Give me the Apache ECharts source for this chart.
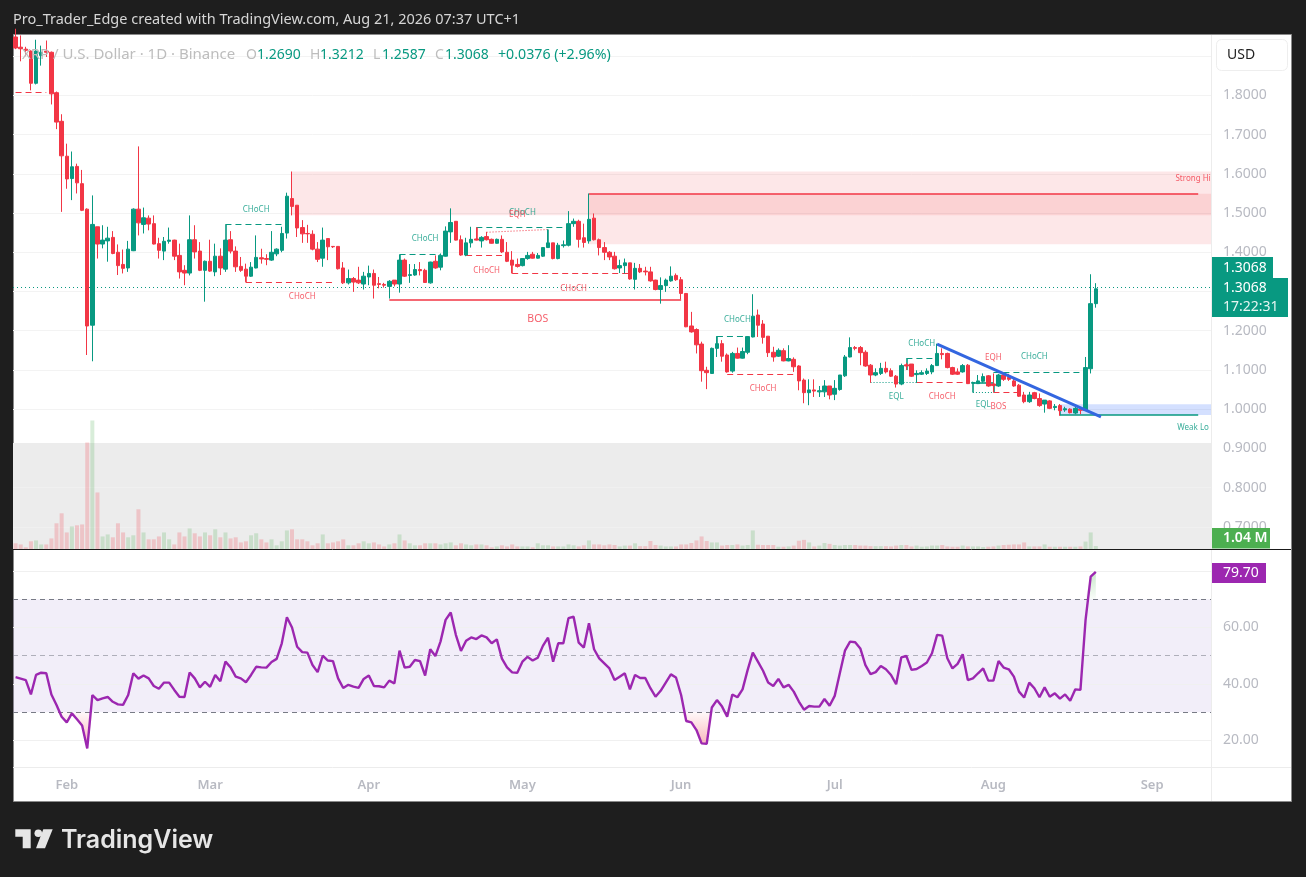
<!DOCTYPE html>
<html><head><meta charset="utf-8">
<style>html,body{margin:0;padding:0;background:#1e1e1e}#c{width:1306px;height:877px}</style>
<script src="https://cdn.jsdelivr.net/npm/echarts@6/dist/echarts.min.js"></script>
</head><body><div id="c"></div>
<script>
const opens=[1.949,1.923,1.918,1.913,1.831,1.902,1.913,1.910,1.807,1.734,
1.645,1.588,1.619,1.575,1.510,1.214,1.465,1.421,1.429,1.438,
1.400,1.369,1.360,1.404,1.510,1.471,1.487,1.473,1.422,1.403,
1.428,1.431,1.392,1.354,1.347,1.432,1.403,1.354,1.377,1.350,
1.390,1.357,1.432,1.403,1.364,1.357,1.339,1.360,1.386,1.384,
1.380,1.396,1.405,1.449,1.537,1.520,1.463,1.448,1.446,1.408,
1.385,1.435,1.415,1.415,1.360,1.322,1.333,1.329,1.319,1.337,
1.346,1.320,1.318,1.313,1.329,1.319,1.380,1.341,1.342,1.356,
1.354,1.322,1.377,1.362,1.390,1.452,1.479,1.432,1.393,1.424,
1.434,1.429,1.440,1.433,1.423,1.433,1.400,1.380,1.369,1.366,
1.384,1.395,1.385,1.390,1.412,1.424,1.384,1.417,1.418,1.473,
1.479,1.437,1.429,1.487,1.432,1.412,1.400,1.390,1.360,1.366,
1.373,1.331,1.359,1.352,1.350,1.329,1.305,1.315,1.327,1.341,
1.330,1.295,1.212,1.203,1.166,1.099,1.091,1.155,1.167,1.138,
1.097,1.142,1.130,1.145,1.184,1.240,1.217,1.186,1.145,1.135,
1.149,1.123,1.127,1.110,1.074,1.042,1.049,1.044,1.044,1.059,
1.038,1.050,1.085,1.133,1.157,1.157,1.145,1.112,1.087,1.091,
1.104,1.098,1.084,1.064,1.113,1.115,1.088,1.089,1.091,1.095,
1.111,1.142,1.142,1.106,1.095,1.095,1.112,1.066,1.065,1.071,
1.085,1.064,1.059,1.087,1.081,1.072,1.061,1.036,1.019,1.042,
1.027,1.013,1.021,1.004,1.009,0.998,1.000,0.990,1.000,0.997,
1.103,1.2690];
const closes=[1.921,1.919,1.915,1.831,1.913,1.910,1.910,1.804,1.732,1.646,
1.587,1.618,1.577,1.507,1.212,1.471,1.421,1.431,1.436,1.397,
1.366,1.359,1.408,1.510,1.475,1.488,1.472,1.421,1.405,1.428,
1.431,1.390,1.350,1.347,1.432,1.401,1.354,1.377,1.352,1.390,
1.360,1.431,1.403,1.363,1.354,1.339,1.362,1.387,1.383,1.382,
1.400,1.408,1.448,1.543,1.517,1.462,1.447,1.447,1.408,1.382,
1.431,1.414,1.414,1.358,1.322,1.333,1.324,1.322,1.339,1.346,
1.316,1.318,1.316,1.326,1.319,1.380,1.339,1.343,1.356,1.353,
1.323,1.375,1.360,1.392,1.454,1.476,1.431,1.393,1.424,1.433,
1.431,1.438,1.432,1.423,1.433,1.401,1.377,1.367,1.364,1.384,
1.392,1.385,1.392,1.412,1.424,1.384,1.418,1.419,1.473,1.479,
1.433,1.425,1.484,1.432,1.412,1.400,1.388,1.358,1.366,1.373,
1.332,1.359,1.350,1.350,1.327,1.305,1.315,1.329,1.339,1.330,
1.295,1.210,1.197,1.164,1.098,1.093,1.155,1.167,1.135,1.095,
1.142,1.130,1.147,1.185,1.237,1.214,1.183,1.144,1.133,1.150,
1.123,1.129,1.108,1.072,1.042,1.049,1.046,1.047,1.059,1.036,
1.053,1.087,1.133,1.157,1.155,1.144,1.110,1.087,1.093,1.104,
1.095,1.084,1.064,1.111,1.110,1.084,1.091,1.093,1.097,1.111,
1.142,1.139,1.106,1.089,1.089,1.111,1.065,1.068,1.072,1.083,
1.059,1.060,1.087,1.076,1.076,1.059,1.033,1.019,1.036,1.027,
1.009,1.023,1.002,1.007,0.996,1.001,0.991,1.002,0.997,1.106,
1.269,1.3068];
const highs=[1.970,1.953,1.924,1.915,1.942,1.927,1.940,1.912,1.810,1.752,
1.677,1.657,1.626,1.610,1.512,1.545,1.465,1.469,1.465,1.454,
1.420,1.407,1.429,1.512,1.670,1.514,1.494,1.494,1.437,1.439,
1.463,1.432,1.422,1.367,1.494,1.469,1.426,1.379,1.432,1.422,
1.410,1.432,1.454,1.415,1.388,1.371,1.375,1.443,1.409,1.395,
1.454,1.410,1.465,1.552,1.606,1.520,1.482,1.470,1.456,1.426,
1.463,1.435,1.416,1.416,1.375,1.356,1.337,1.363,1.350,1.366,
1.356,1.337,1.322,1.329,1.329,1.394,1.384,1.370,1.370,1.375,
1.358,1.376,1.392,1.397,1.466,1.512,1.479,1.443,1.437,1.465,
1.463,1.441,1.452,1.435,1.435,1.443,1.426,1.403,1.384,1.385,
1.401,1.401,1.398,1.412,1.458,1.424,1.424,1.430,1.505,1.486,
1.483,1.473,1.550,1.499,1.435,1.426,1.403,1.401,1.381,1.384,
1.373,1.373,1.370,1.363,1.363,1.330,1.336,1.333,1.364,1.346,
1.337,1.296,1.248,1.206,1.172,1.108,1.157,1.186,1.176,1.142,
1.146,1.157,1.157,1.186,1.293,1.254,1.227,1.186,1.159,1.155,
1.155,1.163,1.132,1.112,1.078,1.076,1.076,1.059,1.074,1.059,
1.074,1.087,1.138,1.183,1.161,1.161,1.150,1.115,1.104,1.118,
1.121,1.104,1.087,1.116,1.118,1.115,1.099,1.099,1.104,1.115,
1.167,1.155,1.144,1.108,1.104,1.115,1.115,1.070,1.087,1.091,
1.087,1.091,1.090,1.090,1.090,1.078,1.064,1.044,1.044,1.044,
1.040,1.023,1.023,1.013,1.013,1.006,1.002,1.006,1.002,1.133,
1.344,1.3212];
const lows=[1.918,1.887,1.900,1.813,1.828,1.876,1.898,1.777,1.714,1.503,
1.562,1.533,1.550,1.505,1.138,1.122,1.384,1.410,1.376,1.395,
1.342,1.346,1.350,1.403,1.443,1.448,1.456,1.420,1.384,1.380,
1.422,1.380,1.333,1.316,1.341,1.384,1.352,1.274,1.350,1.339,
1.342,1.350,1.397,1.350,1.350,1.325,1.337,1.359,1.371,1.367,
1.378,1.390,1.400,1.435,1.494,1.439,1.424,1.424,1.405,1.375,
1.363,1.380,1.411,1.356,1.319,1.318,1.299,1.319,1.305,1.316,
1.282,1.308,1.310,1.282,1.313,1.297,1.337,1.322,1.340,1.341,
1.322,1.320,1.358,1.354,1.389,1.424,1.430,1.391,1.390,1.412,
1.430,1.412,1.430,1.422,1.422,1.398,1.375,1.347,1.361,1.364,
1.381,1.384,1.384,1.388,1.411,1.382,1.382,1.412,1.415,1.465,
1.412,1.412,1.422,1.430,1.392,1.380,1.380,1.356,1.347,1.346,
1.330,1.305,1.347,1.341,1.325,1.303,1.269,1.299,1.325,1.327,
1.280,1.209,1.195,1.142,1.070,1.051,1.090,1.133,1.121,1.093,
1.093,1.129,1.129,1.140,1.183,1.184,1.167,1.133,1.121,1.133,
1.122,1.122,1.095,1.048,1.015,1.010,1.031,1.031,1.031,1.025,
1.023,1.047,1.082,1.132,1.150,1.112,1.108,1.067,1.084,1.087,
1.091,1.082,1.055,1.061,1.100,1.082,1.067,1.087,1.087,1.089,
1.110,1.127,1.104,1.087,1.087,1.093,1.064,1.064,1.064,1.067,
1.057,1.044,1.057,1.072,1.072,1.057,1.031,1.015,1.016,1.025,
1.006,0.991,1.000,0.997,0.983,0.993,0.989,0.987,0.987,0.996,
1.091,1.2587];
const volumes=[2,1.6,.6,2.7,3,1.6,1.6,3.7,9,12.5,
5.8,7.9,8.3,8.6,37.3,45,19.8,4.4,5.1,4.1,
9,5.8,4.1,4.8,13.9,5.8,3.4,3.4,4.4,5.8,
3.4,1.6,5.8,4.4,7.2,5.5,4.4,5.8,4.8,6.9,
4.1,5.8,3.7,4.1,2.3,2.7,4.8,5.5,3.4,2.3,
3.4,1.3,2.7,6.5,6.9,3.4,3.4,2.7,1.3,2,
5.1,2,2.3,2.7,3.4,1.3,1.3,2,2.7,2,
2.3,1.6,.9,1.6,2,5.1,3,2,1.3,1.3,
2,2,2,1.6,2,2.3,1.3,2,1.6,1.3,
1.6,1.6,1.3,.6,.9,1.3,.9,1.6,.9,.9,
.9,.6,2,1.3,1.3,.9,.9,.9,1.6,1.3,
.9,1.3,3,1.6,1.6,1.3,1.6,1.4,.9,1.2,
1.2,2,1,1,2.8,1.4,1.2,.9,.9,.9,
1.6,1.6,2.1,3,4.4,2.8,2.3,2.3,1.2,1.4,
1.4,1.6,1.2,1.4,6.5,1.5,1.4,1.4,1.4,.8,
.8,.9,1.2,2.9,3.2,2.3,.9,1.2,2.1,1.8,
1.4,1.2,1.4,1.4,1.4,1.2,1.2,1,1,1,
1,.9,1.2,1.4,1.4,.9,1.2,.8,.9,1.2,
1.2,1.4,.9,.8,.8,1.2,.9,.9,.9,.7,
.8,.9,1.2,1.4,1.5,1.6,1.6,2.3,.9,.9,
.9,1.6,.8,.8,.8,.8,.8,.8,.9,2.6,
5.8,1.04];
const rsi=[42.4,41.9,41.4,36.3,43.2,44,43.8,36.3,32.6,28.4,
26.4,29.6,27.5,25.3,17.2,36.1,34.3,34.9,35.4,33.7,
32.8,32.6,36.1,43.8,41.9,43,42,39.3,38.3,40.5,
40.5,37.9,35.5,35.4,44.1,42,38.8,40.8,39,43.2,
41,47.9,45.9,42.6,42,40.6,43.2,46.1,45.9,45.8,
47.8,48.9,54.4,63.6,60,53.2,51.3,51.1,46.7,44.2,
50,48.3,48.1,42,38.6,39.7,39.1,38.6,41.8,43,
39.3,39.2,38.8,41.2,40.2,51.8,45.8,46.1,48.5,48.1,
43,52.3,49.9,55,62.7,65.3,57.4,51.7,55.3,56.5,
55.9,57.2,56.5,54.4,55.8,49,45.9,44.1,44,47.9,
49.6,48.3,49.3,53.5,56.4,47.9,54.4,54.4,63.3,63.8,
54.6,52.9,61.5,52.3,49.1,47.3,45.5,41.4,42.6,43.8,
38.1,43.2,42.1,42.1,38.5,35.5,37.6,40.5,43.4,42.3,
36.1,26.9,26.4,23.7,19,18.8,31.7,34.3,32,28.4,
36.3,35.3,38.1,45,51.1,47.9,44.7,40.5,39.3,41.8,
38.8,39.7,37.3,33.8,30.9,32.2,32,32,34.7,32.3,
35.8,43.8,51.8,55,54.8,52.6,46.7,43.5,44.2,46.4,
45.2,43.2,39.9,49.4,49.9,45,45.3,46.4,47.6,50.9,
57.4,57.1,49.1,45.5,47.1,50.5,41.4,42,43.8,45.5,
41.2,41.2,48.1,45.8,45.2,42.6,37.3,35.2,40.5,38.5,
35.3,38.8,35.5,36.7,34.8,36.3,34.1,38.1,37.9,62.7,
78,79.7];
const priceTicks=[1.8,1.7,1.6,1.5,1.4,1.2,1.1,1.0,0.9,0.8,0.7];
const priceGrid=[1.9,1.8,1.7,1.6,1.5,1.4,1.3,1.2,1.1,1.0,0.9];
const bandGrid=[0.8,0.7];
const rsiTicks=[20,40,60];
const rsiGrid=[20,40,60,80];
const monthNames=['Jan','Feb','Mar','Apr','May','Jun','Jul','Aug','Sep'];
const lastPrice=1.3068;
const R='#f23645',G='#089981';
const segments=[
[0,1.809,6,1.809,R,'dashed'],
[41,1.4706,53,1.4706,G,'dashed'],[41,1.4706,41,1.431,G,'solid'],
[45,1.3228,62,1.3228,R,'dashed'],[45,1.3228,45,1.339,R,'solid'],
[75,1.394,83,1.394,G,'dashed'],[75,1.394,75,1.38,G,'solid'],
[73,1.2795,130,1.2795,R,'solid'],
[90,1.463,108,1.463,G,'dashed'],[90,1.463,90,1.431,R,'solid'],
[92,1.451,104,1.458,R,'dotted'],[104,1.458,104,1.424,G,'solid'],
[88,1.3916,95,1.3916,R,'dashed'],
[97,1.3457,120,1.3457,R,'dashed'],[97,1.3457,97,1.367,R,'solid'],
[112,1.5495,231,1.5495,R,'solid'],
[137,1.1852,143,1.1852,G,'dashed'],[137,1.1852,137,1.167,G,'solid'],
[139,1.0884,152,1.0884,R,'dashed'],
[167,1.068,176,1.068,G,'dotted'],[176,1.068,186,1.068,R,'dashed'],
[174,1.1292,180,1.1292,G,'dashed'],[174,1.1292,174,1.10,G,'solid'],
[191,1.0935,208,1.0935,G,'dashed'],
[187,1.068,191,1.068,G,'solid'],[187,1.068,187,1.0425,G,'solid'],[187,1.0425,191,1.0425,G,'dotted'],[191,1.0425,191,1.065,G,'solid'],
[191,1.0425,196,1.0425,R,'dashed'],
[204,0.9847,231,0.9847,G,'solid'],[204,0.9847,204,1.009,G,'solid']];
const trend=[180,1.1656,212,0.980];
const notes=[[47,1.5096,'CHoCH',G,8],[56,1.2854,'CHoCH',R,8],[80,1.4357,'CHoCH',G,8],[99,1.5019,'CHoCH',G,8],
[98,1.4968,'EQH',R,8],[92,1.3541,'CHoCH',R,8],[109,1.3083,'CHoCH',R,8],[102,1.23,'BOS',R,10.5],
[230,1.5885,'Strong Hi',R,8],[141,1.2268,'CHoCH',G,8],[146,1.051,'CHoCH',R,8],[177,1.168,'CHoCH',G,8],
[172,1.0306,'EQL',G,8],[181,1.0306,'CHoCH',R,8],[191,1.13,'EQH',R,8],[199,1.1325,'CHoCH',G,8],
[189,1.0102,'EQL',G,8],[192,1.0051,'BOS',R,8],[230,0.9516,'Weak Lo',G,8]];

const categories=[];
for(let i=0;i<234;i++){categories.push(new Date(Date.UTC(2026,0,22+i)).toISOString().slice(0,10));}
const isMonthStart=(i)=>categories[i].slice(8)==='01';
const FONT='"Noto Sans",sans-serif';
const AX='#b8bac2';
const chart=echarts.init(document.getElementById('c'),null,{renderer:'canvas'});
const txt=(x,y,t,fill,size,extra)=>({type:'text',z:100,silent:true,x,y,style:Object.assign({text:t,fill,font:`${size}px ${FONT}`,textVerticalAlign:'middle'},extra||{})});
const box=(x,y,w,h,fill,r)=>({type:'rect',z:99,silent:true,shape:{x,y,width:w,height:h,r:r||0},style:{fill}});
const line=(x1,y1,x2,y2,stroke)=>({type:'line',z:50,silent:true,shape:{x1,y1,x2,y2},style:{stroke,lineWidth:1}});
const hdrG=G,hdrF='#bdbdbd';
const graphic=[
 {type:'rect',z:-10,silent:true,shape:{x:13.5,y:34.5,width:1278,height:767},style:{fill:'#fff',stroke:'#8a8a8a',lineWidth:1}},
 line(1211.5,35,1211.5,801,'#ececec'),
 line(13,767.5,1291,767.5,'#ececec'),
 line(13,549.5,1291,549.5,'#1a1a1a'),
 txt(13,20,'Pro_Trader_Edge created with TradingView.com, Aug 21, 2026 07:37 UTC+1','#d6d6d6',14.5),
 txt(22,55,'XRP / U.S. Dollar · 1D · Binance',hdrF,15),
 txt(246,55,'O',hdrF,14),txt(257,55,'1.2690',hdrG,14),
 txt(310,55,'H',hdrF,14),txt(320,55,'1.3212',hdrG,14),
 txt(373,55,'L',hdrF,14),txt(382,55,'1.2587',hdrG,14),
 txt(435,55,'C',hdrF,14),txt(445,55,'1.3068',hdrG,14),
 txt(498,55,'+0.0376 (+2.96%)',hdrG,14.2),
 {type:'rect',z:99,silent:true,shape:{x:1216.5,y:39.5,width:71,height:31,r:5},style:{fill:'#fff',stroke:'#eeeeee',lineWidth:1}},
 txt(1227,55,'USD','#222',14),
 box(1212,257,61,21,G),txt(1223,268,'1.3068','#fff',14),
 box(1212,278,76,39,G),txt(1223,288,'1.3068','#fff',14),txt(1223,307,'17:22:31','#e6f5f2',14),
 box(1212,528,58,20.5,'#4caf50'),txt(1223,538,'1.04 M','#fff',14,{font:`600 14px ${FONT}`}),
 box(1212,563,54,20,'#9c27b0'),txt(1223,573,'79.70','#fff',14),
 {type:'polygon',z:100,silent:true,shape:{points:[[15.3,829.3],[30.7,829.3],[30.7,848.3],[22.7,848.3],[22.7,836.7],[15.3,836.7]]},style:{fill:'#e6e6e6'}},
 {type:'circle',z:100,silent:true,shape:{cx:38.3,cy:833.2,r:3.8},style:{fill:'#e6e6e6'}},
 {type:'polygon',z:100,silent:true,shape:{points:[[43.3,829.3],[52.7,829.3],[45,848.3],[36,848.3]]},style:{fill:'#e6e6e6'}},
 {type:'text',z:100,silent:true,x:61,y:840,style:{text:'TradingView',fill:'#e6e6e6',font:'600 25px Inter,sans-serif',textVerticalAlign:'middle'}}
];
const segData=segments.map(s=>[{coord:[s[0],s[1]],lineStyle:{color:s[4],type:s[5]==='dashed'?[6,4]:s[5]==='dotted'?[1,2]:'solid',width:s[5]==='solid'?1.6:1}},{coord:[s[2],s[3]]}]);
const mk={symbol:'none',silent:true,animation:false,label:{show:false}};
chart.setOption({
 backgroundColor:'#1e1e1e',animation:false,
 textStyle:{fontFamily:FONT},
 graphic,
 grid:[{left:13,width:1198,top:35,height:514},{left:13,width:1198,top:550,height:217}],
 xAxis:[
  {type:'category',data:categories,gridIndex:0,axisLine:{show:false},axisTick:{show:false},axisLabel:{show:false},splitLine:{show:false}},
  {type:'category',data:categories,gridIndex:1,axisLine:{show:false},axisTick:{show:false},splitLine:{show:false},
   axisLabel:{show:true,interval:(i)=>isMonthStart(i),margin:12,color:AX,fontSize:13,fontWeight:600,
    formatter:(v)=>monthNames[+v.slice(5,7)-1]}}
 ],
 yAxis:[
  {type:'value',gridIndex:0,position:'right',min:0.6433,max:1.9541,axisLine:{show:false},axisTick:{show:false},splitLine:{show:false},
   axisLabel:{show:true,customValues:priceTicks,margin:12,color:AX,fontSize:14,padding:[4,0,0,0],formatter:v=>v.toFixed(4)}},
  {type:'value',gridIndex:0,position:'left',min:0,max:180,show:false,splitLine:{show:false}},
  {type:'value',gridIndex:1,position:'right',min:10.62,max:87.43,axisLine:{show:false},axisTick:{show:false},splitLine:{show:false},
   axisLabel:{show:true,customValues:rsiTicks,margin:12,color:AX,fontSize:14,padding:[4,0,0,0],formatter:v=>v.toFixed(2)}}
 ],
 series:[
  {name:'zones',type:'line',xAxisIndex:0,yAxisIndex:0,data:[],z:1,
   markLine:Object.assign({},mk,{z:0.5,lineStyle:{color:'#f3f3f3',width:1,type:'solid'},data:priceGrid.map(v=>({yAxis:v}))}),
   markArea:{silent:true,z:1,animation:false,data:[
    [{xAxis:54,yAxis:1.606,itemStyle:{color:'rgba(242,54,69,0.12)'}},{yAxis:1.4945}],
    [{xAxis:112,yAxis:1.5495,itemStyle:{color:'rgba(242,54,69,0.12)'}},{yAxis:1.4205}],
    [{xAxis:204,yAxis:1.0127,itemStyle:{color:'rgba(41,98,255,0.2)'}},{yAxis:0.985}],
    [{yAxis:0.9134,itemStyle:{color:'#ececec'}},{yAxis:0.6433}]
   ]}
  },
  {name:'bandLines',type:'line',xAxisIndex:0,yAxisIndex:0,data:[],z:1.5,
   markLine:Object.assign({},mk,{z:1.5,lineStyle:{color:'#f0f0f0',width:1,type:'solid'},data:bandGrid.map(v=>({yAxis:v}))})},
  {name:'Volume',type:'bar',xAxisIndex:0,yAxisIndex:1,data:volumes,barWidth:4,z:2,
   itemStyle:{color:p=>closes[p.dataIndex]>=opens[p.dataIndex]?'rgba(76,175,80,0.22)':'rgba(242,54,69,0.22)'}},
  {name:'structure',type:'line',xAxisIndex:0,yAxisIndex:0,data:[],z:2.5,
   markLine:Object.assign({},mk,{z:2.5,data:segData.concat([{yAxis:lastPrice,lineStyle:{color:G,type:[1,3],width:1}}])})},
  {name:'XRPUSD',type:'candlestick',xAxisIndex:0,yAxisIndex:0,barWidth:4,z:3,clip:true,
   data:opens.map((o,i)=>[o,closes[i],lows[i],highs[i]]),
   itemStyle:{color:G,color0:R,borderColor:G,borderColor0:R,borderWidth:1}},
  {name:'trend',type:'line',xAxisIndex:0,yAxisIndex:0,data:[],z:6,
   markLine:Object.assign({},mk,{z:6,data:[[{coord:[trend[0],trend[1]],lineStyle:{color:'#3366e0',width:3,type:'solid'}},{coord:[trend[2],trend[3]]}]]})},
  {name:'notes',type:'scatter',xAxisIndex:0,yAxisIndex:0,symbolSize:0,z:7,silent:true,itemStyle:{color:'transparent'},
   data:notes.map(n=>({value:[n[0],n[1]],label:{show:true,position:'inside',formatter:n[2],color:n[3],fontSize:n[4],fontFamily:FONT}}))},
  {name:'RSI',type:'line',xAxisIndex:1,yAxisIndex:2,data:rsi,showSymbol:false,symbol:'none',z:4,lineStyle:{color:'#9c27b0',width:2.4},
   markArea:{silent:true,z:1,animation:false,itemStyle:{color:'rgba(126,87,194,0.1)'},data:[[{yAxis:70},{yAxis:30}]]},
   markLine:Object.assign({},mk,{z:2,data:rsiGrid.map(v=>({yAxis:v,lineStyle:{color:'#f0f0f0',width:1,type:'solid'}})).concat([
     {yAxis:70,lineStyle:{color:'#787b86',width:1,type:[5,4]}},
     {yAxis:50,lineStyle:{color:'rgba(120,123,134,0.55)',width:1,type:[5,4]}},
     {yAxis:30,lineStyle:{color:'#787b86',width:1,type:[5,4]}}])})},
  {name:'oversold',type:'line',xAxisIndex:1,yAxisIndex:2,data:rsi.map(v=>Math.min(v,30)),symbol:'none',z:3,lineStyle:{width:0},
   areaStyle:{origin:30,opacity:1,color:new echarts.graphic.LinearGradient(0,0,0,1,[{offset:0,color:'rgba(242,54,69,0.03)'},{offset:1,color:'rgba(242,54,69,0.4)'}])}},
  {name:'overbought',type:'line',xAxisIndex:1,yAxisIndex:2,data:rsi.map(v=>Math.max(v,70)),symbol:'none',z:3,lineStyle:{width:0},
   areaStyle:{origin:70,opacity:1,color:new echarts.graphic.LinearGradient(0,0,0,1,[{offset:0,color:'rgba(76,175,80,0.3)'},{offset:1,color:'rgba(76,175,80,0.03)'}])}}
 ]
});
</script></body></html>
